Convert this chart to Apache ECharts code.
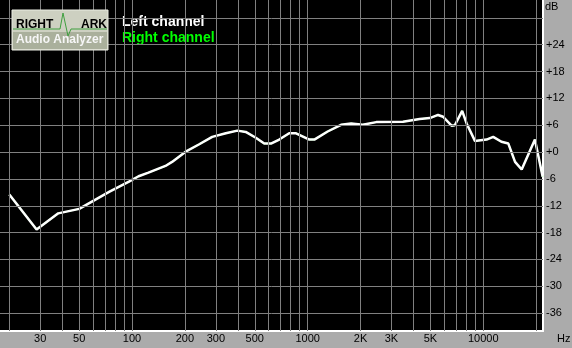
<!DOCTYPE html>
<html>
<head>
<meta charset="utf-8">
<script src="https://cdn.jsdelivr.net/npm/echarts@6/dist/echarts.min.js"></script>
<style>
html,body{margin:0;padding:0;background:#ababab;}
#chart{width:572px;height:348px;}
</style>
</head>
<body>
<div id="chart"></div>
<script>
// Frequency (Hz) and level (dB)
var freqs = [20, 28.6, 38, 50, 74, 96, 109, 124, 155, 169, 202, 240, 286, 342, 398, 444, 507, 566, 618, 689, 785, 859, 1023, 1092, 1300, 1550, 1770, 2060, 2460, 3490, 4345, 4960, 5530, 5910, 6600, 6890, 7590, 8040, 8970, 10450, 11400, 12700, 13900, 15180, 16560, 19700, 21800];
var leftDb = [-9.5, -17.3, -13.7, -12.7, -8.9, -6.6, -5.4, -4.6, -3.1, -2.2, 0.1, 1.7, 3.4, 4.2, 4.8, 4.5, 3.2, 1.9, 1.9, 2.8, 4.2, 4.2, 2.8, 2.8, 4.6, 6.1, 6.4, 6.1, 6.7, 6.8, 7.4, 7.6, 8.3, 7.9, 5.9, 6.0, 9.2, 6.4, 2.5, 2.8, 3.4, 2.3, 1.9, -2.2, -3.9, 2.8, -5.5];
var rightDb = leftDb; // right channel coincides with left (hidden underneath)

var xGridValues = [20,30,40,50,60,70,80,90,100,200,300,400,500,600,700,800,900,1000,2000,3000,4000,5000,6000,7000,8000,9000,10000,20000];
var xLabelValues = [30,50,100,200,300,500,1000,2000,3000,5000,10000];
var xLabelText = {30:'30',50:'50',100:'100',200:'200',300:'300',500:'500',1000:'1000',2000:'2K',3000:'3K',5000:'5K',10000:'10000'};
var yGridValues = [-36,-30,-24,-18,-12,-6,0,6,12,18,24,30];
var yLabelValues = [-36,-30,-24,-18,-12,-6,0,6,12,18,24];

var seriesNames = ['Left channel','Right channel'];

function pairs(xs, ys){ return xs.map(function(x,i){ return [x, ys[i]]; }); }

var chart = echarts.init(document.getElementById('chart'));
var gridLineStyle = {color:'#808080', width:1, type:'solid'};
var markData = xGridValues.map(function(v){ return {xAxis:v}; })
  .concat(yGridValues.map(function(v){ return {yAxis:v}; }));

chart.setOption({
  animation:false,
  backgroundColor:'#ababab',
  textStyle:{fontFamily:'Liberation Sans'},
  grid:{left:0, top:0, width:543, height:331, show:true, backgroundColor:'#000', borderWidth:0, containLabel:false},
  xAxis:{
    type:'log', min:17.7, max:21900,
    axisLine:{show:true, onZero:false, lineStyle:{color:'#ffffff', width:2}},
    axisTick:{show:false},
    splitLine:{show:false},
    minorSplitLine:{show:false},
    axisLabel:{
      customValues:xLabelValues,
      margin:2, color:'#000', fontSize:11, fontFamily:'Liberation Sans',
      formatter:function(v){ return xLabelText[v] !== undefined ? xLabelText[v] : ''; }
    }
  },
  yAxis:{
    type:'value', min:-40, max:34, position:'right',
    axisLine:{show:true, onZero:false, lineStyle:{color:'#ffffff', width:2}},
    axisTick:{show:false},
    splitLine:{show:false},
    axisLabel:{
      customValues:yLabelValues,
      margin:3, color:'#000', fontSize:11, fontFamily:'Liberation Sans',
      formatter:function(v){ return v >= 0 ? '+' + v : String(v); }
    }
  },
  legend:{
    orient:'vertical', left:117, top:14, itemGap:0, itemWidth:0, itemHeight:0, icon:'none',
    padding:0, selectedMode:false,
    textStyle:{fontSize:14, fontWeight:'bold', fontFamily:'Liberation Sans', lineHeight:16, padding:[0,0,0,0]},
    data:[
      {name:seriesNames[0], textStyle:{color:'#ffffff'}},
      {name:seriesNames[1], textStyle:{color:'#00ff00'}}
    ]
  },
  graphic:[
    {type:'rect', shape:{x:12, y:10, width:96, height:40}, style:{fill:'#cdd0c1', stroke:'#eaece2', lineWidth:1}, z:100},
    {type:'rect', shape:{x:13, y:32, width:94, height:17}, style:{fill:'#aab09c'}, z:100},
    {type:'polyline', shape:{points:[[13,29],[60,29],[63,13],[68,36],[71,29],[107,29]]}, style:{stroke:'#3f9f3f', lineWidth:1, fill:null}, z:101},
    {type:'text', left:16, top:19, style:{text:'RIGHT', fill:'#000', font:'bold 12px "Liberation Sans"'}, z:102},
    {type:'text', left:81, top:19, style:{text:'ARK', fill:'#000', font:'bold 12px "Liberation Sans"'}, z:102},
    {type:'text', left:16, top:34, style:{text:'Audio Analyzer', fill:'#f6f6f6', font:'bold 12px "Liberation Sans"'}, z:102},
    {type:'text', left:545, top:1, style:{text:'dB', fill:'#000', font:'11px "Liberation Sans"'}, z:102},
    {type:'text', left:557, top:333, style:{text:'Hz', fill:'#000', font:'11px "Liberation Sans"'}, z:102}
  ],
  series:[
    {
      type:'line', name:'grid', data:[], silent:true, z:1,
      markLine:{silent:true, symbol:['none','none'], label:{show:false}, lineStyle:gridLineStyle, data:markData, animation:false}
    },
    {
      type:'line', name:seriesNames[1], data:pairs(freqs, rightDb), showSymbol:false, symbol:'none',
      lineStyle:{color:'#00ff00', width:1.5}, itemStyle:{color:'#00ff00'}, z:3
    },
    {
      type:'line', name:seriesNames[0], data:pairs(freqs, leftDb), showSymbol:false, symbol:'none',
      lineStyle:{color:'#ffffff', width:2.5}, itemStyle:{color:'#ffffff'}, z:4
    }
  ]
});
</script>
</body>
</html>
